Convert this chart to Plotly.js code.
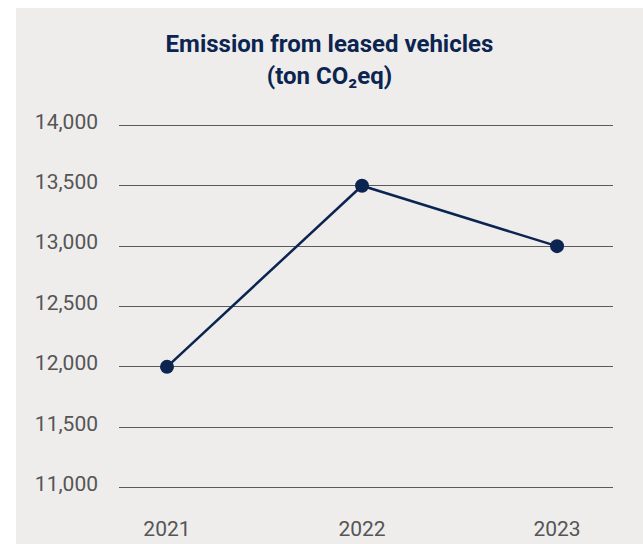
<!DOCTYPE html>
<html>
<head>
<meta charset="utf-8">
<script src="https://cdn.plot.ly/plotly-3.0.1.min.js"></script>
<style>
  html, body { margin: 0; padding: 0; background: #ffffff; }
  #chart { position: absolute; left: 16px; top: 8px; width: 627px; height: 536px; }
</style>
</head>
<body>
<div id="chart"></div>
<script>
const years = ['2021', '2022', '2023'];
const emissions = [12000, 13500, 13000];
const yTicks = [11000, 11500, 12000, 12500, 13000, 13500, 14000];
const yTickLabels = ['11,000', '11,500', '12,000', '12,500', '13,000', '13,500', '14,000'];

const navy = '#0c2550';
const grey = '#555555';

const trace = {
  x: years,
  y: emissions,
  type: 'scatter',
  mode: 'lines+markers',
  line: { color: navy, width: 2.5 },
  marker: { color: navy, size: 14 },
  cliponaxis: false,
  hoverinfo: 'x+y'
};

const layout = {
  width: 627,
  height: 536,
  paper_bgcolor: '#eeedec',
  plot_bgcolor: '#eeedec',
  margin: { l: 103, r: 30, t: 115, b: 54 },
  showlegend: false,
  title: {
    text: 'Emission from leased vehicles<br>(ton CO\u2082eq)',
    font: { family: 'Roboto, sans-serif', size: 24, color: navy, weight: 700 },
    x: 0.5, xref: 'container', xanchor: 'center',
    y: 0.917, yref: 'container', yanchor: 'top'
  },
  xaxis: {
    type: 'category',
    range: [-0.246, 2.287],
    showgrid: false,
    zeroline: false,
    showline: false,
    ticks: '',
    ticklabelstandoff: 24,
    tickfont: { family: 'Roboto, sans-serif', size: 21, color: grey }
  },
  yaxis: {
    range: [10980, 14020],
    tickvals: yTicks,
    ticktext: yTickLabels,
    showgrid: true,
    gridcolor: '#5a5a5a',
    gridwidth: 1,
    zeroline: false,
    showline: false,
    ticks: '',
    ticklabelstandoff: 20,
    ticklabelshift: -4,
    tickfont: { family: 'Roboto, sans-serif', size: 21, color: grey }
  }
};

Plotly.newPlot('chart', [trace], layout, { displayModeBar: false, staticPlot: true });
</script>
</body>
</html>
